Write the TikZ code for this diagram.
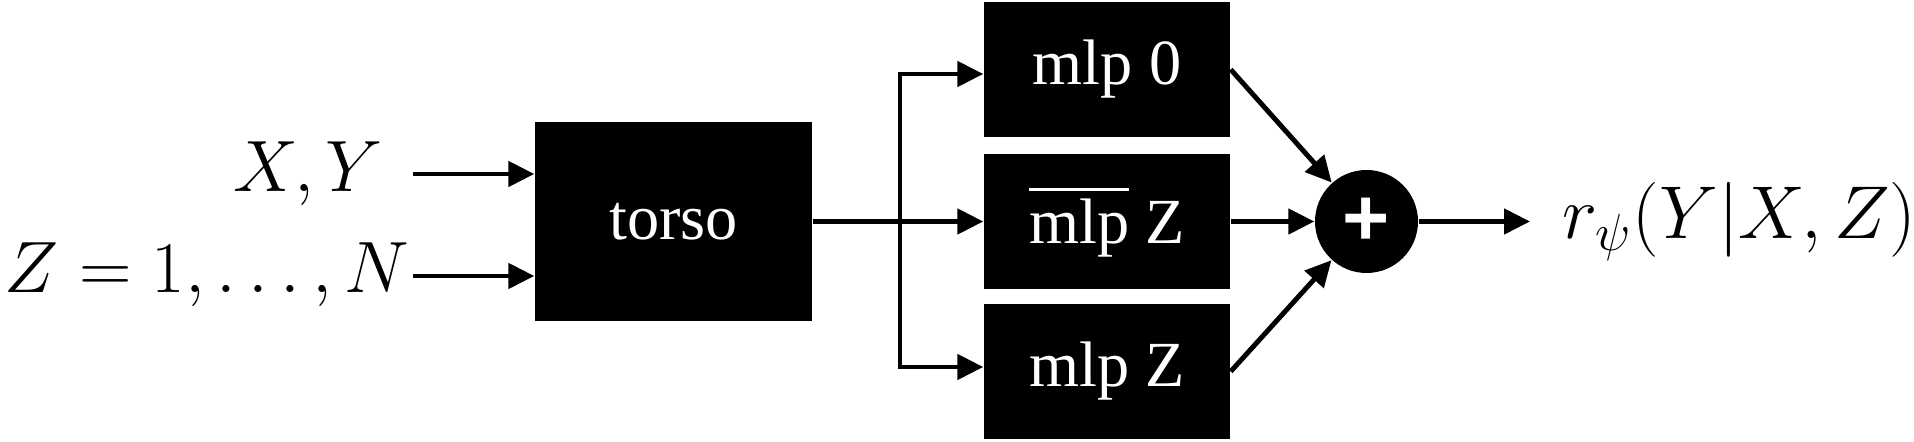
\RequirePackage{fix-cm}
\documentclass[tikz,border=0pt]{standalone}
\usepackage{amsmath,amssymb}
\usepackage{fontspec}
\newfontfamily\boxfont{Liberation Serif}
\newfontfamily\plusfont{Liberation Sans}
\usepackage{tikz}
\usetikzlibrary{arrows.meta,calc,positioning}

\begin{document}
\begin{tikzpicture}[
    blk/.style={fill=black, text=white, inner sep=0pt, font=\boxfont\fontsize{18.3}{22}\selectfont},
    arr/.style={line width=1.4pt, -{Triangle[length=0.26cm,width=0.25cm]}},
    lbl/.style={inner sep=0pt, font=\fontsize{20.7}{26}\selectfont}]
    \useasboundingbox (0,0) rectangle (19.14,4.42);
    % blocks
    \node[blk, minimum width=2.77cm, minimum height=1.99cm] (torso) at (6.735,2.205) {torso};
    \node[blk, minimum width=2.46cm, minimum height=1.35cm] (mlp0) at (11.07,3.725) {mlp 0};
    \node[blk, minimum width=2.46cm, minimum height=1.35cm] (mlpbar) at (11.07,2.205) {$\overline{\hbox{mlp}}$ Z};
    \node[blk, minimum width=2.46cm, minimum height=1.35cm] (mlpz) at (11.07,0.705) {mlp Z};
    \node[circle, fill=black, text=white, minimum size=1.03cm, inner sep=0pt,
          font=\plusfont\bfseries\fontsize{23}{23}\selectfont] (plus) at (13.665,2.205) {+};
    % labels
    \node[lbl, anchor=base east] (xy) at (3.84,2.50) {$X, Y$};
    \node[lbl, anchor=base east] (zn) at (4.10,1.49) {$Z = 1, \ldots, N$};
    \node[lbl, anchor=base west, font=\fontsize{21.3}{26}\selectfont] (out) at (15.62,2.03) {$r_\psi(Y|X,Z)$};
    \coordinate (inXY) at (4.13,2.68);
    \coordinate (inZ) at (4.13,1.66);
    \coordinate (split) at (9.00,2.205);
    \coordinate (outEnd) at (15.30,2.205);
    % connectors
    \draw[arr] (inXY) -- (inXY -| torso.west);
    \draw[arr] (inZ) -- (inZ -| torso.west);
    \draw[arr] (torso.east) -- (mlpbar.west);
    \draw[arr] (split) |- ([yshift=-0.045cm]mlp0.west);
    \draw[arr] (split) |- ([yshift=0.045cm]mlpz.west);
    \draw[arr] (mlp0.east) -- (plus);
    \draw[arr] (mlpbar.east) -- (plus);
    \draw[arr] (mlpz.east) -- (plus);
    \draw[arr] (plus) -- (outEnd);
\end{tikzpicture}
\end{document}
